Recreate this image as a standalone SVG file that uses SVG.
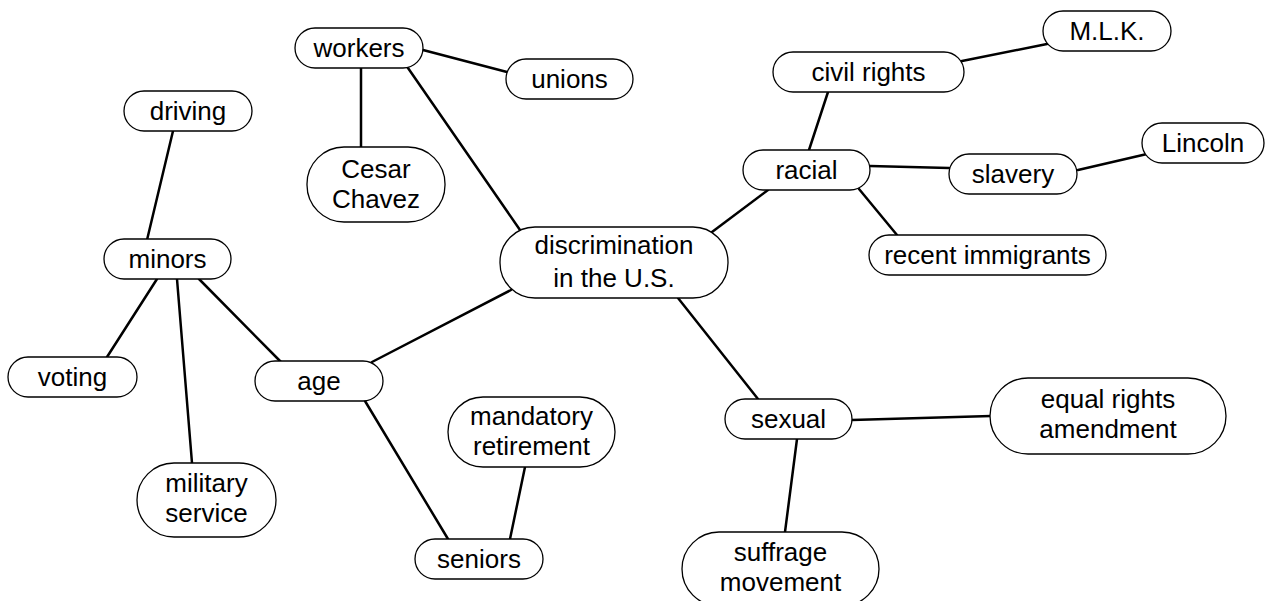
<svg xmlns="http://www.w3.org/2000/svg" width="1267" height="601" viewBox="0 0 1267 601">
<style>
.n rect{fill:#fff;stroke:#000;stroke-width:1.3}
.n text{font-family:"Liberation Sans",Arial,Helvetica,sans-serif;font-size:26px;fill:#000;text-anchor:middle}
#edges line{stroke:#000;stroke-width:2.5;stroke-linecap:round}
</style>
<rect width="1267" height="601" fill="#fff"/>
<g id="edges">
<line x1="423" y1="50" x2="507" y2="72"/>
<line x1="361" y1="68" x2="361" y2="147"/>
<line x1="408" y1="68" x2="520" y2="230"/>
<line x1="173" y1="131" x2="147" y2="240"/>
<line x1="157" y1="279" x2="107" y2="357"/>
<line x1="177" y1="279" x2="192" y2="463"/>
<line x1="199" y1="279" x2="281" y2="362"/>
<line x1="372" y1="362" x2="511" y2="290"/>
<line x1="365" y1="401" x2="448" y2="539"/>
<line x1="525" y1="467" x2="510" y2="539"/>
<line x1="708" y1="235" x2="768" y2="190"/>
<line x1="828" y1="92" x2="809" y2="150"/>
<line x1="962" y1="61" x2="1047" y2="44"/>
<line x1="870" y1="166" x2="949" y2="168"/>
<line x1="1078" y1="170" x2="1147" y2="154"/>
<line x1="859" y1="189" x2="897" y2="235"/>
<line x1="678" y1="298" x2="758" y2="399"/>
<line x1="852" y1="420" x2="991" y2="416"/>
<line x1="797" y1="439" x2="785" y2="532"/>
</g>
<g id="workers" class="n"><rect x="295" y="28" width="128" height="40" rx="20"/><text x="359" y="57">workers</text></g>
<g id="unions" class="n"><rect x="506" y="59" width="127" height="40" rx="20"/><text x="569.5" y="88">unions</text></g>
<g id="cesar" class="n"><rect x="307" y="147" width="138" height="75" rx="37"/><text x="376" y="178">Cesar</text><text x="376" y="208">Chavez</text></g>
<g id="driving" class="n"><rect x="124" y="91" width="128" height="40" rx="20"/><text x="188" y="120">driving</text></g>
<g id="minors" class="n"><rect x="104" y="239" width="127" height="40" rx="20"/><text x="167.5" y="268">minors</text></g>
<g id="voting" class="n"><rect x="8" y="357" width="129" height="40" rx="20"/><text x="72.5" y="386">voting</text></g>
<g id="military" class="n"><rect x="137" y="463" width="139" height="74" rx="37"/><text x="206.5" y="492">military</text><text x="206.5" y="522">service</text></g>
<g id="age" class="n"><rect x="255" y="361" width="128" height="40" rx="20"/><text x="319" y="390">age</text></g>
<g id="seniors" class="n"><rect x="415" y="539" width="128" height="40" rx="20"/><text x="479" y="568">seniors</text></g>
<g id="mandatory" class="n"><rect x="448" y="397" width="167" height="70" rx="35"/><text x="531.5" y="425">mandatory</text><text x="531.5" y="455">retirement</text></g>
<g id="discrimination" class="n"><rect x="500" y="227" width="228" height="71" rx="35"/><text x="614" y="254">discrimination</text><text x="614" y="287">in the U.S.</text></g>
<g id="civilrights" class="n"><rect x="773" y="52" width="191" height="40" rx="20"/><text x="868.5" y="81">civil rights</text></g>
<g id="mlk" class="n"><rect x="1043" y="11" width="128" height="40" rx="20"/><text x="1107" y="40">M.L.K.</text></g>
<g id="racial" class="n"><rect x="743" y="150" width="127" height="40" rx="20"/><text x="806.5" y="179">racial</text></g>
<g id="slavery" class="n"><rect x="949" y="154" width="128" height="40" rx="20"/><text x="1013" y="183">slavery</text></g>
<g id="lincoln" class="n"><rect x="1142" y="123" width="122" height="40" rx="20"/><text x="1203" y="152">Lincoln</text></g>
<g id="immigrants" class="n"><rect x="869" y="235" width="237" height="40" rx="20"/><text x="987.5" y="264">recent immigrants</text></g>
<g id="sexual" class="n"><rect x="725" y="399" width="127" height="40" rx="20"/><text x="788.5" y="428">sexual</text></g>
<g id="equalrights" class="n"><rect x="990" y="378" width="236" height="76" rx="38"/><text x="1108" y="408">equal rights</text><text x="1108" y="438">amendment</text></g>
<g id="suffrage" class="n"><rect x="682" y="532" width="197" height="74" rx="37"/><text x="780.5" y="561">suffrage</text><text x="780.5" y="591">movement</text></g>
</svg>
